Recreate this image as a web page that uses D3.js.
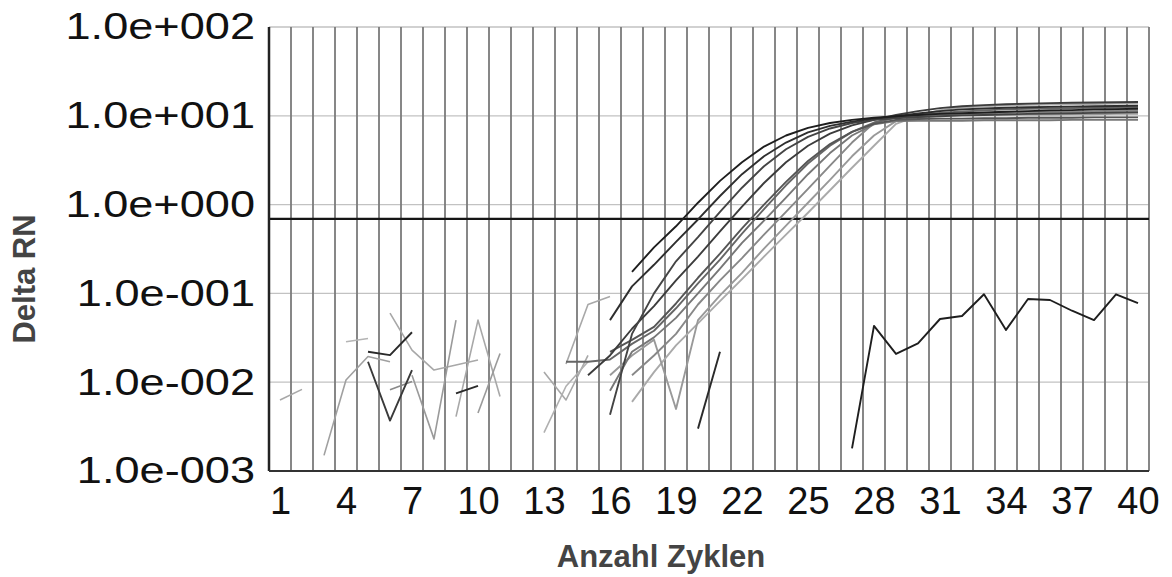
<!DOCTYPE html>
<html>
<head>
<meta charset="utf-8">
<script src="https://cdn.jsdelivr.net/npm/d3@7"></script>
<style>
  html, body { margin: 0; padding: 0; background: #fff; }
  svg { display: block; font-family: "Liberation Sans", Arial, sans-serif; }
</style>
</head>
<body>
<div id="chart"></div>
<script>
// cycle axis
const cycles = [1,2,3,4,5,6,7,8,9,10,11,12,13,14,15,16,17,18,19,20,
                21,22,23,24,25,26,27,28,29,30,31,32,33,34,35,36,37,38,39,40];
const xTickLabels = [1, 4, 7, 10, 13, 16, 19, 22, 25, 28, 31, 34, 37, 40];
const yTickValues = [1e2, 1e1, 1e0, 1e-1, 1e-2, 1e-3];
const yTickLabels = ['1.0e+002', '1.0e+001', '1.0e+000', '1.0e-001', '1.0e-002', '1.0e-003'];
const threshold = 0.69;

// amplification curves, [cycle, delta Rn]
const wellA = [[17,0.175],[18,0.33],[19,0.57],[20,1.05],[21,1.85],[22,3.0],[23,4.5],[24,6.0],[25,7.3],[26,8.3],[27,9.0],[28,9.5],[29,9.9],[30,10.2],[31,10.5],[32,10.7],[33,10.9],[34,11.1],[35,11.3],[36,11.5],[37,11.6],[38,11.8],[39,11.9],[40,12.0]];
const wellB = [[16,0.05],[17,0.12],[18,0.21],[19,0.38],[20,0.68],[21,1.25],[22,2.2],[23,3.5],[24,5.0],[25,6.5],[26,7.7],[27,8.6],[28,9.3],[29,9.9],[30,10.6],[31,11.3],[32,11.8],[33,12.1],[34,12.3],[35,12.5],[36,12.6],[37,12.7],[38,12.8],[39,12.9],[40,13.0]];
const wellC = [[16,0.0043],[17,0.035],[18,0.1],[19,0.23],[20,0.43],[21,0.83],[22,1.55],[23,2.7],[24,4.2],[25,5.8],[26,7.2],[27,8.3],[28,9.0],[29,9.4],[30,9.7],[31,9.9],[32,10.1],[33,10.2],[34,10.4],[35,10.5],[36,10.6],[37,10.7],[38,10.8],[39,10.9],[40,11.0]];
const wellD = [[15,0.012],[16,0.02],[17,0.04],[18,0.072],[19,0.14],[20,0.26],[21,0.5],[22,0.95],[23,1.75],[24,3.0],[25,4.6],[26,6.3],[27,7.8],[28,9.0],[29,10.2],[30,11.3],[31,12.2],[32,12.8],[33,13.2],[34,13.5],[35,13.7],[36,13.9],[37,14.0],[38,14.1],[39,14.2],[40,14.3]];
const wellE = [[16,0.022],[17,0.03],[18,0.042],[19,0.077],[20,0.15],[21,0.28],[22,0.54],[23,1.0],[24,1.8],[25,3.1],[26,4.8],[27,6.6],[28,8.1],[29,9.0],[30,9.2],[31,9.3],[32,9.3],[33,9.4],[34,9.4],[35,9.5],[36,9.5],[37,9.5],[38,9.6],[39,9.6],[40,9.6]];
const wellF = [[14,0.017],[15,0.017],[16,0.018],[17,0.027],[18,0.038],[19,0.068],[20,0.13],[21,0.24],[22,0.47],[23,0.89],[24,1.65],[25,2.9],[26,4.6],[27,6.6],[28,8.4],[29,9.6],[30,10.3],[31,10.8],[32,11.2],[33,11.5],[34,11.8],[35,12.0],[36,12.1],[37,12.2],[38,12.3],[39,12.4],[40,12.5]];
const wellG = [[16,0.008],[17,0.022],[18,0.032],[19,0.053],[20,0.1],[21,0.19],[22,0.37],[23,0.66],[24,1.2],[25,2.2],[26,3.8],[27,6.0],[28,8.0],[29,8.7],[30,8.8],[31,8.8],[32,8.8],[33,8.9],[34,8.9],[35,8.9],[36,8.9],[37,9.0],[38,9.0],[39,9.0],[40,9.0]];
const wellH = [[17,0.012],[18,0.02],[19,0.035],[20,0.075],[21,0.14],[22,0.25],[23,0.46],[24,0.83],[25,1.5],[26,2.75],[27,5.0],[28,8.3],[29,9.6],[30,10.0],[31,10.3],[32,10.5],[33,10.7],[34,10.9],[35,11.0],[36,11.1],[37,11.2],[38,11.3],[39,11.4],[40,11.5]];
const wellI = [[16,0.012],[17,0.02],[18,0.03],[19,0.005],[20,0.05],[21,0.095],[22,0.17],[23,0.32],[24,0.58],[25,1.05],[26,1.9],[27,3.5],[28,6.0],[29,8.7],[30,9.6],[31,10.0],[32,10.1],[33,10.2],[34,10.2],[35,10.3],[36,10.3],[37,10.4],[38,10.4],[39,10.5],[40,10.5]];
const wellJ = [[17,0.006],[18,0.013],[19,0.026],[20,0.046],[21,0.082],[22,0.145],[23,0.26],[24,0.46],[25,0.81],[26,1.45],[27,2.6],[28,4.6],[29,8.1],[30,10.0],[31,11.6],[32,12.4],[33,12.8],[34,13.1],[35,13.3],[36,13.4],[37,13.5],[38,13.6],[39,13.7],[40,13.8]];

// negative control and background fragments
const ntcWell = [[27,0.0018],[28,0.043],[29,0.0208],[30,0.0274],[31,0.0515],[32,0.0556],[33,0.0977],[34,0.0388],[35,0.0865],[36,0.0843],[37,0.0638],[38,0.05],[39,0.0977],[40,0.0776]];
const frag20 = [[20,0.003],[21,0.022]];
const noise1 = [[1,0.0063],[2,0.0083]];
const noise2 = [[3,0.0015],[4,0.0106],[5,0.0195],[6,0.017]];
const noise3 = [[4,0.0286],[5,0.031]];
const noise4 = [[5,0.017],[6,0.0037],[7,0.0137]];
const noise5 = [[5,0.022],[6,0.0202],[7,0.0365]];
const noise6 = [[6,0.0082],[7,0.0102]];
const noise7 = [[6,0.06],[7,0.023],[8,0.0137],[9,0.0156],[10,0.0178]];
const noise8 = [[7,0.012],[8,0.0023],[9,0.05]];
const noise9 = [[9,0.0041],[10,0.05],[11,0.0069]];
const noise10 = [[10,0.0045],[11,0.021]];
const noise11 = [[9,0.0075],[10,0.0091]];
const noise12 = [[13,0.013],[14,0.0063],[15,0.02]];
const noise13 = [[13,0.0027],[14,0.009],[15,0.017]];
const noise14 = [[14,0.016],[15,0.075],[16,0.092]];

const series = [noise1, noise2, noise3, noise6, noise7, noise8, noise9, noise10, noise12, noise13, noise14,
                wellJ, wellI, wellH, wellG, wellF, wellE, wellD, wellC, wellB, wellA,
                noise4, noise5, noise11, frag20, ntcWell];
const seriesColors = ['#a8a8a8', '#a0a0a0', '#b4b4b4', '#8a8a8a', '#a8a8a8', '#9a9a9a', '#a8a8a8', '#9a9a9a', '#a8a8a8', '#b0b0b0', '#a8a8a8',
                      '#aaaaaa', '#999999', '#888888', '#777777', '#666666', '#555555', '#3c3c3c', '#444444', '#2e2e2e', '#1e1e1e',
                      '#3a3a3a', '#2a2a2a', '#2a2a2a', '#2a2a2a', '#1e1e1e'];

const width = 1172;
const height = 577;
const plot = {left: 269, right: 1149, top: 27, bottom: 471};

const svg = d3.select('#chart')
    .append('svg')
        .attr('width', width)
        .attr('height', height);

const x = d3.scaleLinear()
    .domain([cycles[0] - 0.5, cycles[cycles.length - 1] + 0.5])
    .range([plot.left, plot.right]);

const y = d3.scaleLog()
    .domain([1e-3, 1e2])
    .range([plot.bottom, plot.top]);

// horizontal grid (decades)
svg.append('g')
    .selectAll('line')
    .data(yTickValues)
    .join('line')
        .attr('x1', plot.left)
        .attr('x2', plot.right)
        .attr('y1', d => y(d))
        .attr('y2', d => y(d))
        .attr('stroke', '#c2c2c2')
        .attr('stroke-width', 1.3);

// vertical grid between cycles
svg.append('g')
    .selectAll('line')
    .data([0].concat(cycles))
    .join('line')
        .attr('x1', d => x(d + 0.5))
        .attr('x2', d => x(d + 0.5))
        .attr('y1', plot.top)
        .attr('y2', plot.bottom)
        .attr('stroke', '#7a7a7a')
        .attr('stroke-width', 1.8);

// threshold
svg.append('line')
    .attr('x1', plot.left)
    .attr('x2', plot.right)
    .attr('y1', y(threshold))
    .attr('y2', y(threshold))
    .attr('stroke', '#151515')
    .attr('stroke-width', 2.2);

const line = d3.line()
    .x(d => x(d[0]))
    .y(d => y(d[1]));

svg.append('g')
    .selectAll('path')
    .data(series)
    .join('path')
        .attr('d', line)
        .attr('fill', 'none')
        .attr('stroke', (d, i) => seriesColors[i])
        .attr('stroke-width', (d, i) => i >= 11 ? 1.9 : 1.6)
        .attr('stroke-linejoin', 'round');

// frame
svg.append('line')
    .attr('x1', plot.left).attr('x2', plot.left)
    .attr('y1', plot.top).attr('y2', plot.bottom)
    .attr('stroke', '#222').attr('stroke-width', 2.5);
svg.append('line')
    .attr('x1', plot.left).attr('x2', plot.right)
    .attr('y1', plot.bottom).attr('y2', plot.bottom)
    .attr('stroke', '#333').attr('stroke-width', 2.2);

// y axis labels (the source lettering is a little wider than Arial)
const yStretch = 1.22;
svg.append('g')
    .attr('transform', `translate(${plot.left}, 0)`)
    .call(d3.axisLeft(y)
        .tickValues(yTickValues)
        .tickFormat((d, i) => yTickLabels[i])
        .tickSize(0)
        .tickPadding(14))
    .call(g => g.select('.domain').remove())
    .selectAll('text')
        .attr('x', -14 / yStretch)
        .attr('transform', `scale(${yStretch}, 1)`)
        .attr('font-family', '"Liberation Sans", Arial, sans-serif')
        .attr('font-size', 37)
        .attr('fill', '#111');

// x axis labels
svg.append('g')
    .attr('transform', `translate(0, ${plot.bottom})`)
    .call(d3.axisBottom(x)
        .tickValues(xTickLabels)
        .tickFormat(d3.format('d'))
        .tickSize(0)
        .tickPadding(16))
    .call(g => g.select('.domain').remove())
    .selectAll('text')
        .attr('font-family', '"Liberation Sans", Arial, sans-serif')
        .attr('font-size', 38)
        .attr('fill', '#111');

// axis titles
svg.append('text')
    .attr('text-anchor', 'middle')
    .attr('x', 661)
    .attr('y', 567)
    .attr('font-size', 31)
    .attr('font-weight', 'bold')
    .attr('fill', '#444')
    .text('Anzahl Zyklen');

svg.append('text')
    .attr('text-anchor', 'middle')
    .attr('transform', 'translate(35, 279) rotate(-90)')
    .attr('font-size', 31)
    .attr('font-weight', 'bold')
    .attr('fill', '#444')
    .text('Delta RN');
</script>
</body>
</html>
